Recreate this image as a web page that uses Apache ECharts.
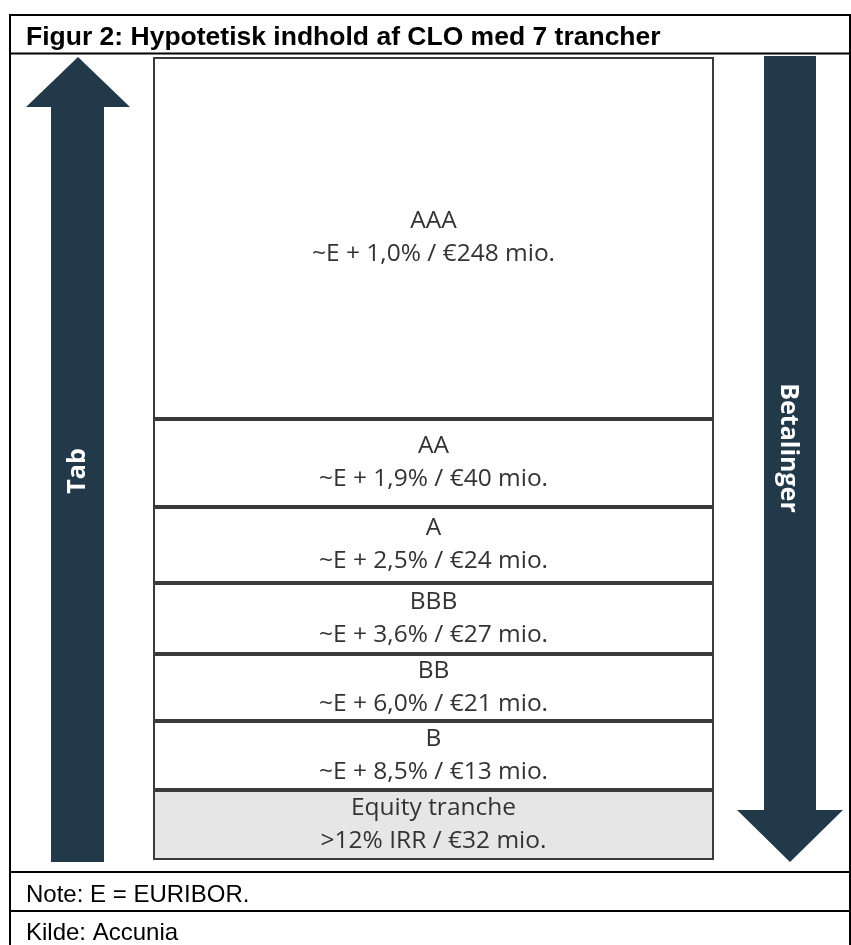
<!DOCTYPE html>
<html>
<head>
<meta charset="utf-8">
<title>Figur 2</title>
<script src="https://cdn.jsdelivr.net/npm/echarts@6/dist/echarts.min.js"></script>
<style>
    html, body { margin: 0; padding: 0; background: #fff; }
    #main { width: 851px; height: 945px; }
</style>
</head>
<body>
<div id="main"></div>
<script>
// tranches, top (senior) to bottom (equity)
var ratings = ['AAA', 'AA', 'A', 'BBB', 'BB', 'B', 'Equity tranche'];
var spreads = ['~E + 1,0%', '~E + 1,9%', '~E + 2,5%', '~E + 3,6%', '~E + 6,0%', '~E + 8,5%', '>12% IRR'];
var amounts = [248, 40, 24, 27, 21, 13, 32];   // mio. EUR
// box height of each tranche as drawn in the figure (not to scale with amounts)
var boxUnits = [362, 88, 76, 71, 67, 69, 70];

var arrowColor = '#22394a';
var lineColor = '#3a3a3a';

var chart = echarts.init(document.getElementById('main'));

var total = 0;
for (var i = 0; i < boxUnits.length; i++) total += boxUnits[i];

var series = [];
for (var i = 0; i < ratings.length; i++) {
    series.push({
        name: ratings[i],
        type: 'bar',
        stack: 'clo',
        barWidth: '100%',
        data: [boxUnits[i]],
        itemStyle: {
            color: i == ratings.length - 1 ? '#e6e6e6' : '#ffffff',
            borderColor: lineColor,
            borderWidth: 2
        },
        label: {
            show: true,
            position: 'inside',
            formatter: ratings[i] + '\n' + spreads[i] + ' / €' + amounts[i] + ' mio.',
            fontFamily: 'Open Sans',
            fontSize: 24.5,
            lineHeight: 33,
            color: '#333333'
        },
        emphasis: { disabled: true },
        animation: false
    });
}

chart.setOption({
    animation: false,
    grid: { left: 153, right: 137, top: 57, bottom: 85 },
    xAxis: { type: 'category', data: ['CLO'], show: false },
    yAxis: { type: 'value', inverse: true, min: 0, max: total, show: false },
    series: series,
    graphic: [
        // frame
        { type: 'line', shape: { x1: 10, y1: 15, x2: 851, y2: 15 }, style: { stroke: '#000', lineWidth: 2 } },
        { type: 'line', shape: { x1: 10, y1: 14, x2: 10, y2: 945 }, style: { stroke: '#000', lineWidth: 2 } },
        { type: 'line', shape: { x1: 850, y1: 14, x2: 850, y2: 945 }, style: { stroke: '#000', lineWidth: 2 } },
        { type: 'line', shape: { x1: 10, y1: 53.5, x2: 851, y2: 53.5 }, style: { stroke: '#000', lineWidth: 2 } },
        { type: 'line', shape: { x1: 10, y1: 872, x2: 851, y2: 872 }, style: { stroke: '#000', lineWidth: 2 } },
        { type: 'line', shape: { x1: 10, y1: 911, x2: 851, y2: 911 }, style: { stroke: '#000', lineWidth: 2 } },
        {
            type: 'text', x: 26, y: 38,
            style: { text: 'Figur 2: Hypotetisk indhold af CLO med 7 trancher', fontFamily: 'Liberation Sans, Arial', fontWeight: 'bold', fontSize: 26.5, fill: '#000', verticalAlign: 'middle' }
        },
        {
            type: 'text', x: 26, y: 895,
            style: { text: 'Note: E = EURIBOR.', fontFamily: 'Liberation Sans, Arial', fontSize: 24, fill: '#000', verticalAlign: 'middle' }
        },
        {
            type: 'text', x: 26, y: 933,
            style: { text: 'Kilde: Accunia', fontFamily: 'Liberation Sans, Arial', fontSize: 24, fill: '#000', verticalAlign: 'middle' }
        },
        // Tab arrow (up)
        {
            type: 'polygon',
            shape: { points: [[78, 57], [130, 107], [104, 107], [104, 862], [51, 862], [51, 107], [26, 107]] },
            style: { fill: arrowColor }
        },
        {
            type: 'text', x: 78, y: 471, rotation: Math.PI / 2,
            style: { text: 'Tab', fontFamily: 'Open Sans', fontWeight: 'bold', fontSize: 25, fill: '#fff', align: 'center', verticalAlign: 'middle' }
        },
        // Betalinger arrow (down)
        {
            type: 'polygon',
            shape: { points: [[764, 56], [816, 56], [816, 810], [843, 810], [790, 862], [737, 810], [764, 810]] },
            style: { fill: arrowColor }
        },
        {
            type: 'text', x: 788, y: 448, rotation: -Math.PI / 2,
            style: { text: 'Betalinger', fontFamily: 'Open Sans', fontWeight: 'bold', fontSize: 25, fill: '#fff', align: 'center', verticalAlign: 'middle' }
        }
    ]
});
</script>
</body>
</html>
